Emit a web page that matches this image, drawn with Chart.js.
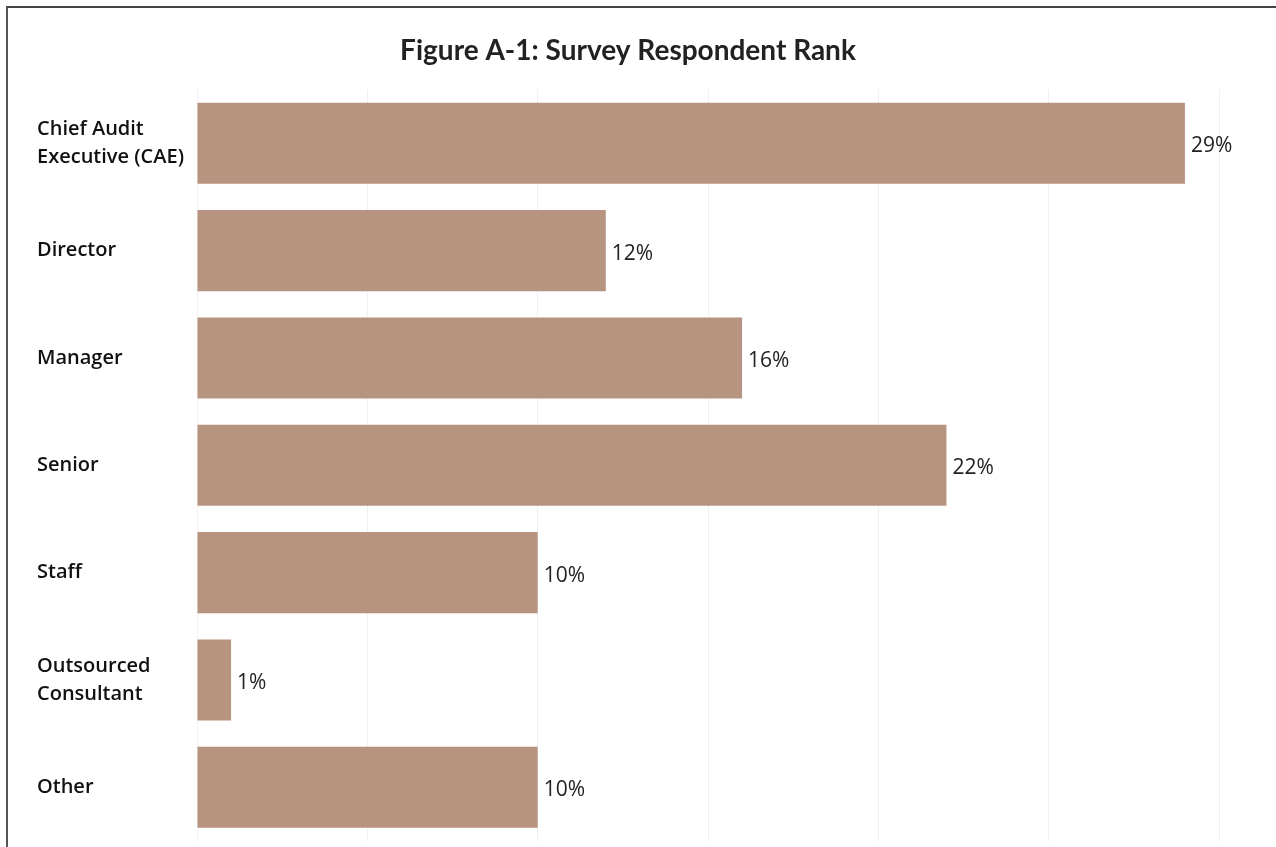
<!DOCTYPE html>
<html>
<head>
<meta charset="utf-8">
<script src="https://cdn.jsdelivr.net/npm/chart.js@4/dist/chart.umd.min.js"></script>
<style>
  html, body { margin: 0; padding: 0; background: #fff; overflow: hidden; }
  #wrap { position: relative; width: 1276px; height: 847px; }
  #frame {
    position: absolute; left: 6px; top: 6px; width: 1300px; height: 900px;
    border-left: 2px solid #555; border-top: 2px solid #444; pointer-events: none;
  }
  canvas { position: absolute; left: 0; top: 0; }
</style>
</head>
<body>
<div id="wrap">
  <canvas id="rankChart" width="1276" height="847"></canvas>
  <div id="frame"></div>
</div>
<script>
// respondent rank shares, in percent
const ranks = [
  ['Chief Audit', 'Executive (CAE)'],
  'Director',
  'Manager',
  'Senior',
  'Staff',
  ['Outsourced', 'Consultant'],
  'Other'
];
const shares = [29, 12, 16, 22, 10, 1, 10];
const axisTicks = [0, 5, 10, 15, 20, 25, 30];

// writes "NN%" just past the end of each bar
const valueLabels = {
  id: 'valueLabels',
  afterDatasetsDraw(chart) {
    const ctx = chart.ctx;
    const meta = chart.getDatasetMeta(0);
    ctx.save();
    ctx.font = '21px "Open Sans", sans-serif';
    ctx.fillStyle = '#222';
    ctx.textAlign = 'left';
    ctx.textBaseline = 'middle';
    meta.data.forEach((bar, i) => {
      ctx.fillText(shares[i] + '%', bar.x + 6, bar.y + 3);
    });
    ctx.restore();
  }
};

new Chart(document.getElementById('rankChart'), {
  type: 'bar',
  data: {
    labels: ranks,
    datasets: [{
      data: shares,
      backgroundColor: '#b79480',
      categoryPercentage: 1,
      barPercentage: 0.755
    }]
  },
  options: {
    indexAxis: 'y',
    responsive: false,
    animation: false,
    layout: { padding: { left: 37, right: 57, top: 0, bottom: 6 } },
    plugins: {
      legend: { display: false },
      tooltip: { enabled: false },
      title: {
        display: true,
        text: 'Figure A-1: Survey Respondent Rank',
        color: '#222',
        font: { family: 'Lato', size: 28, weight: 'bold' },
        padding: { top: 34, bottom: 22 }
      }
    },
    scales: {
      x: {
        min: 0,
        max: 30,
        afterBuildTicks: s => { s.ticks = axisTicks.map(v => ({ value: v })); },
        afterFit: s => { s.height = 0; },
        ticks: { display: false },
        border: { display: false },
        grid: { color: '#f0f0f0', drawTicks: false }
      },
      y: {
        afterFit: s => {
          s.width = 160;
          s.paddingTop = 0;
          s.paddingBottom = 0;
        },
        border: { display: false },
        grid: { display: false },
        ticks: {
          crossAlign: 'far',
          color: '#111',
          font: { family: '"Open Sans"', size: 20, weight: 600, lineHeight: 1.4 }
        }
      }
    }
  },
  plugins: [valueLabels]
});
</script>
</body>
</html>
